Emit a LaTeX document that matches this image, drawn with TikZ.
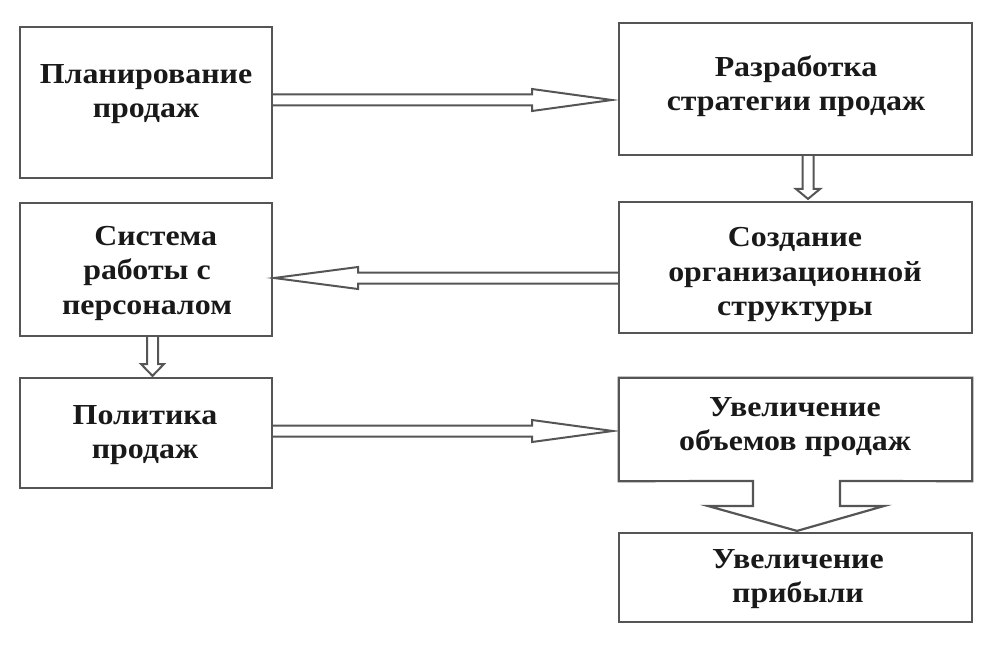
\documentclass[tikz,border=0pt]{standalone}
\usepackage{fontspec}
\setmainfont{Liberation Serif}[FakeStretch=1.1]
\usetikzlibrary{calc}
\definecolor{lc}{RGB}{85,85,85}
\begin{document}
\begin{tikzpicture}[x=1pt,y=-1pt,
  box/.style={draw=lc,line width=2.2pt,inner sep=0pt},
  plainbox/.style={inner sep=0pt},
  lbl/.style={font=\bfseries\fontsize{29}{34.5}\selectfont,align=center,inner sep=0pt,text=black!90},
  harrow/.style={draw=lc,line width=2pt,line join=miter}]
\useasboundingbox (0,0) rectangle (1003,647);
% boxes
\node[box,minimum width=252pt,minimum height=151pt] (b1) at (146,102.5) {};
\node[box,minimum width=353pt,minimum height=132pt] (b2) at (795.5,89) {};
\node[box,minimum width=252pt,minimum height=133pt] (b3) at (146,269.5) {};
\node[box,minimum width=353pt,minimum height=131pt] (b4) at (795.5,267.5) {};
\node[box,minimum width=252pt,minimum height=110pt] (b5) at (146,433) {};
\node[plainbox,minimum width=353pt,minimum height=103pt] (b6) at (795.5,429.5) {};
\node[box,minimum width=353pt,minimum height=89pt] (b7) at (795.5,577.5) {};
% box 6 with its block arrow to box 7
\draw[harrow,line width=2.2pt] (b6.north west) -- (b6.north east) -- (b6.south east)
  -- (840,481) -- (840,506) -- (884,506) -- ($(b7.north -| 797,0)+(0,-1)$)
  -- (708,506) -- (753,506) -- (753,481) -- (b6.south west) -- cycle;
% labels
\node[lbl] (t1) at (146,94) {Планирование\\продаж};
\node[lbl] (t2) at (796,86) {Разработка\\стратегии продаж};
\node[lbl] (t3) at (147,273) {\hspace*{0.6em}Система\\работы с\\персоналом};
\node[lbl] (t4) at (795,275) {Создание\\организационной\\структуры};
\node[lbl] (t5) at (145,435) {Политика\\продаж};
\node[lbl] (t6) at (795,427) {Увеличение\\объемов продаж};
\node[lbl] (t7) at (798,579) {Увеличение\\прибыли};
% hollow arrows
\draw[harrow] (b1.east |- 0,94.5) -- (532,94.5) -- (532,89) -- ($(b2.west |- 0,100)+(-6,0)$)
  -- (532,111) -- (532,105.5) -- (b1.east |- 0,105.5);
\draw[harrow] (b2.south -| 802.5,0) -- (802.5,189) -- (796,189) -- ($(b4.north -| 808,0)+(0,-2)$)
  -- (820,189) -- (813.5,189) -- (b2.south -| 813.5,0);
\draw[harrow] (b4.west |- 0,272.5) -- (358,272.5) -- (358,267) -- ($(b3.east |- 0,278)+(1,0)$)
  -- (358,289) -- (358,283.5) -- (b4.west |- 0,283.5);
\draw[harrow] (b3.south -| 147,0) -- (147,364) -- (141,364) -- ($(b5.north -| 152.5,0)+(0,-1)$)
  -- (164,364) -- (158,364) -- (b3.south -| 158,0);
\draw[harrow] (b5.east |- 0,425.5) -- (532,425.5) -- (532,420) -- ($(b6.west |- 0,431)+(-6,0)$)
  -- (532,442) -- (532,436.5) -- (b5.east |- 0,436.5);
\end{tikzpicture}
\end{document}
